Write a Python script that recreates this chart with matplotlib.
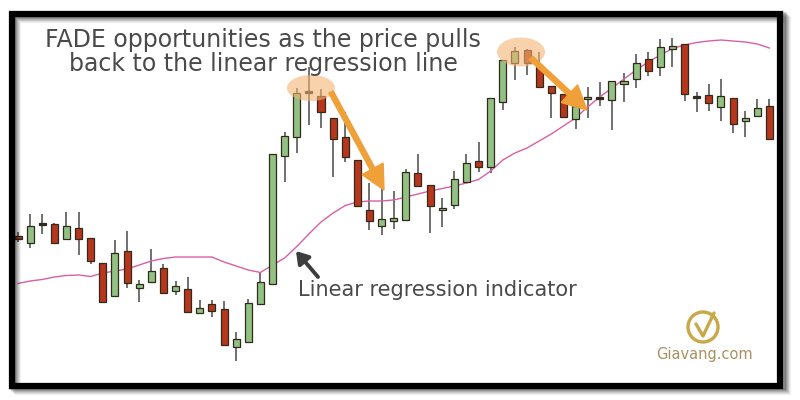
import matplotlib
matplotlib.use("Agg")
import matplotlib.pyplot as plt
from matplotlib.patches import Ellipse, Rectangle, FancyArrow, Circle
import numpy as np

# ---- data (price units) ----
opens  = [164, 157, 176, 176, 161, 172, 162, 137, 104, 149, 112, 118, 132, 109, 111, 87, 96, 91, 53, 58,
          96, 116, 244, 263, 308, 304, 282, 263, 240, 190, 174, 179, 180, 227, 215, 190, 195, 218, 239, 233,
          298, 337, 350, 333, 314, 306, 281, 301, 302, 300, 317, 321, 341, 333, 352, 356, 303, 305, 293, 302,
          279, 284, 294]
closes = [161, 174, 176, 157, 174, 161, 139, 98, 147, 117, 116, 129, 107, 114, 88, 92, 89, 55, 61, 97,
          118, 246, 264, 307, 308, 288, 261, 243, 194, 179, 181, 182, 228, 214, 194, 192, 221, 237, 233, 302,
          340, 349, 337, 313, 307, 283, 294, 303, 302, 319, 318, 337, 329, 353, 353, 306, 303, 297, 304, 276,
          282, 292, 261]
highs  = [168, 186, 186, 177, 188, 188, 162, 137, 160, 169, 120, 151, 136, 119, 123, 100, 100, 99, 68, 101,
          128, 246, 268, 312, 333, 311, 282, 288, 240, 217, 212, 209, 231, 246, 215, 202, 229, 246, 258, 302,
          340, 353, 351, 348, 314, 306, 310, 313, 318, 319, 327, 346, 348, 361, 362, 356, 308, 316, 321, 302,
          289, 301, 301]
lows   = [158, 152, 166, 157, 161, 145, 136, 97, 104, 112, 98, 118, 107, 105, 87, 87, 83, 55, 39, 58,
          96, 116, 218, 247, 275, 272, 223, 238, 194, 170, 165, 171, 180, 214, 167, 173, 191, 218, 228, 227,
          290, 320, 325, 313, 282, 282, 271, 282, 294, 270, 298, 312, 324, 324, 333, 299, 288, 289, 279, 267,
          263, 284, 261]
linreg = [116.5, 119, 120.5, 123, 124.5, 125, 123.5, 127, 129, 131, 135, 139, 141.5, 143, 143, 143, 143, 138, 134, 130,
          127.5, 135, 142, 153.5, 166, 178, 187, 194.5, 198, 199, 199, 200, 203, 206, 209, 211.5, 214, 217, 220.5, 229,
          240, 247, 252, 259, 266, 274, 282, 293, 303, 312, 321, 330, 338, 345, 351.5, 355, 357.5, 359, 360, 359,
          358, 356, 352]

n = len(opens)
idx = np.arange(n)

GREEN = "#93c083"
RED = "#b8361c"
EDGE = "#2e2a1c"
WICK = "#707070"
PINK = "#d95fa4"

fig = plt.figure(figsize=(8, 4), dpi=100)
fig.patch.set_facecolor("white")

ax = fig.add_axes([0, 0, 1, 1])
ax.set_xlim(-18 / 12.12, (800 - 18) / 12.12)
ax.set_ylim(0, 400)
ax.axis("off")

# wicks
ax.vlines(idx, lows, highs, color=WICK, lw=1.4, zorder=2)
# bodies
for i in range(n):
    o, c = opens[i], closes[i]
    bottom = min(o, c)
    h = abs(c - o)
    col = GREEN if c >= o else RED
    if h < 2:
        bottom = (o + c) / 2 - 1.2
        h = 2.4
        col = EDGE if o == c else col
    ax.bar(i, h, bottom=bottom, width=0.58, color=col, edgecolor=EDGE, lw=0.9, zorder=3)

# regression line
ax.plot(idx, linreg, color=PINK, lw=1.0, zorder=2.5)

# ---- overlay in pixel coordinates ----
ov = fig.add_axes([0, 0, 1, 1], zorder=5)
ov.set_xlim(0, 800)
ov.set_ylim(400, 0)
ov.axis("off")
ov.patch.set_alpha(0)

# highlight ellipses
ov.add_patch(Ellipse((311, 88), 48, 26, facecolor="#f2b573", alpha=0.6, edgecolor="none", zorder=1))
ov.add_patch(Ellipse((521, 52), 48, 29, facecolor="#f2b573", alpha=0.6, edgecolor="none", zorder=1))

# orange arrows
ORANGE = "#f0a038"
def arrow(x0, y0, x1, y1):
    ov.add_patch(FancyArrow(x0, y0, x1 - x0, y1 - y0, width=5, head_width=24, head_length=24,
                            length_includes_head=True, color=ORANGE, zorder=2))
arrow(331, 92, 384, 190)
arrow(531, 58, 587, 110)

# grey pointer arrow
ov.annotate("", xy=(296, 251), xytext=(318, 277),
            arrowprops=dict(arrowstyle="-|>,head_length=0.7,head_width=0.45", color="#3d3d3d", lw=2.8,
                            shrinkA=0, shrinkB=0), zorder=3)

# texts
ov.text(263, 52, "FADE opportunities as the price pulls\nback to the linear regression line",
        ha="center", va="center", fontsize=17, color="#4a4a4a", family="DejaVu Sans",
        linespacing=1.05, zorder=4)
ov.text(298, 290, "Linear regression indicator", ha="left", va="center", fontsize=15,
        color="#4a4a4a", family="DejaVu Sans", zorder=4)

# watermark logo
GOLD = "#c9a847"
ov.add_patch(Circle((703, 327), 15, fill=False, edgecolor=GOLD, lw=2.4, zorder=4))
ov.plot([696, 703, 714], [324, 336, 313], color=GOLD, lw=2.4, zorder=4, solid_capstyle="round")
ov.text(704, 355, "Giavang.com", ha="center", va="center", fontsize=10.5, color="#a89060", zorder=4)

# frame shadow
for k, a in zip(range(6, 0, -1), [0.05, 0.07, 0.09, 0.11, 0.14, 0.18]):
    ov.add_patch(Rectangle((12 + k, 14 + k), 770, 372, fill=False, edgecolor="black", lw=4.5,
                           alpha=a, zorder=5))
# frame
ov.add_patch(Rectangle((12, 14), 768, 372, fill=False, edgecolor="black", lw=4.5, zorder=6))

fig.savefig("out.png", dpi=100, facecolor="white")
